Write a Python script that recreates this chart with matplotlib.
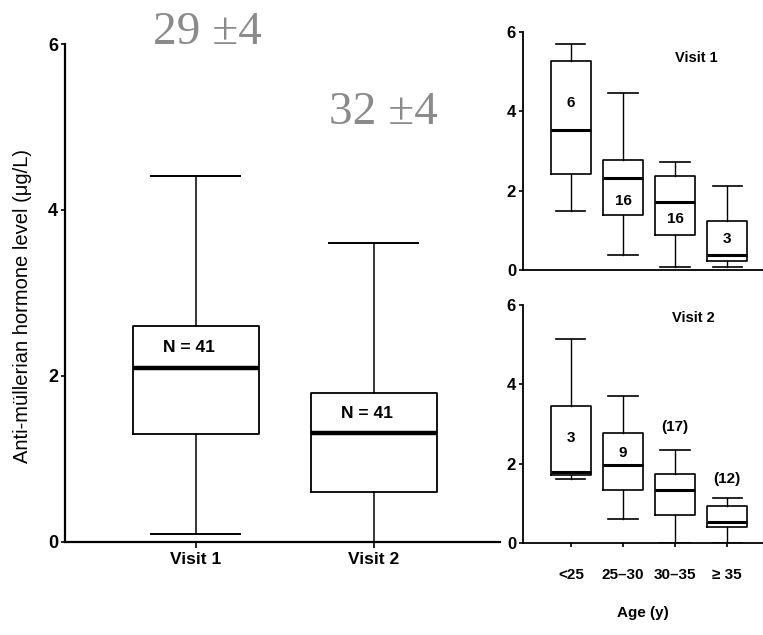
import matplotlib
matplotlib.use('Agg')
import matplotlib.pyplot as plt

# main panel: AMH by visit
main_labels = ['Visit 1', 'Visit 2']
main_whislo = [0.10, 0.00]
main_q1 = [1.30, 0.60]
main_med = [2.10, 1.31]
main_q3 = [2.60, 1.80]
main_whishi = [4.41, 3.60]
main_n = ['N = 41', 'N = 41']
main_n_y = [2.34, 1.55]
age_notes = ['29 \u00b14', '32 \u00b14']

# right panels: AMH by age group
age_groups = ['<25', '25\u201330', '30\u201335', '\u2265 35']
v1_whislo = [1.49, 0.38, 0.08, 0.08]
v1_q1 = [2.43, 1.38, 0.88, 0.23]
v1_med = [3.54, 2.32, 1.71, 0.37]
v1_q3 = [5.28, 2.77, 2.36, 1.24]
v1_whishi = [5.70, 4.45, 2.72, 2.12]
v1_n = ['6', '16', '16', '3']
v1_n_y = [4.21, 1.74, 1.28, 0.79]

v2_whislo = [1.62, 0.61, 0.00, 0.00]
v2_q1 = [1.72, 1.34, 0.71, 0.40]
v2_med = [1.80, 1.97, 1.34, 0.52]
v2_q3 = [3.45, 2.77, 1.74, 0.92]
v2_whishi = [5.14, 3.71, 2.34, 1.13]
v2_n = ['3', '9', '(17)', '(12)']
v2_n_y = [2.64, 2.26, 2.93, 1.61]

plt.rcParams['font.family'] = ['Liberation Sans', 'DejaVu Sans']
SERIF = ['Liberation Serif', 'DejaVu Serif']


def stats(lo, q1, med, q3, hi):
    return [dict(whislo=a, q1=b, med=c, q3=d, whishi=e, fliers=[])
            for a, b, c, d, e in zip(lo, q1, med, q3, hi)]


def style_axis(ax, lw=1.4):
    for s in ('top', 'right'):
        ax.spines[s].set_visible(False)
    for s in ('left', 'bottom'):
        ax.spines[s].set_linewidth(lw)
    ax.set_ylim(0, 6)
    ax.set_yticks([0, 2, 4, 6])
    ax.tick_params(axis='y', length=3, width=1.2, pad=2)
    ax.tick_params(axis='x', length=4, width=1.2)


fig = plt.figure(figsize=(7.63, 6.35), dpi=100)

# ---- main panel
ax = fig.add_axes([0.0852, 0.1465, 0.570, 0.7842])
ax.bxp(stats(main_whislo, main_q1, main_med, main_q3, main_whishi),
       positions=[1, 2], widths=0.71, capwidths=0.5, showfliers=False,
       boxprops=dict(color='black', linewidth=1.3),
       whiskerprops=dict(color='black', linewidth=1.1),
       capprops=dict(color='black', linewidth=1.4),
       medianprops=dict(color='black', linewidth=3.2, solid_capstyle='butt'))
style_axis(ax, lw=1.6)
ax.set_xlim(0.264, 2.708)
ax.set_xticks([1, 2])
ax.set_xticklabels(main_labels, fontweight='bold', fontsize=12.5)
ax.set_yticklabels(['0', '2', '4', '6'], fontweight='bold', fontsize=13)
ax.set_ylabel('Anti-m\u00fcllerian hormone level (\u03bcg/L)', fontsize=14.5)
ax.yaxis.set_label_coords(-0.076, 0.474)
for i, (t, y) in enumerate(zip(main_n, main_n_y)):
    ax.text(i + 1 - 0.04, y, t, ha='center', va='center',
            fontweight='bold', fontsize=12.5)

fig.text(207 / 763, 1 - 44 / 635, age_notes[0], ha='center', va='baseline',
         family=SERIF, fontsize=34, color='#8a8a8a')
fig.text(383 / 763, 1 - 124 / 635, age_notes[1], ha='center', va='baseline',
         family=SERIF, fontsize=34, color='#8a8a8a')

# ---- right panels
pos = [1, 2, 3, 4]
panels = [
    ([0.6855, 0.5748, 0.3145, 0.3748], 'Visit 1',
     stats(v1_whislo, v1_q1, v1_med, v1_q3, v1_whishi), v1_n, v1_n_y, 3.0, 5.34),
    ([0.6855, 0.1449, 0.3145, 0.3748], 'Visit 2',
     stats(v2_whislo, v2_q1, v2_med, v2_q3, v2_whishi), v2_n, v2_n_y, 2.94, 5.66),
]
for k, (rect, title, st, nlab, ny, tx, ty) in enumerate(panels):
    a = fig.add_axes(rect)
    a.bxp(st, positions=pos, widths=0.77, capwidths=0.56, showfliers=False,
          boxprops=dict(color='black', linewidth=1.2),
          whiskerprops=dict(color='black', linewidth=1.0),
          capprops=dict(color='black', linewidth=1.2),
          medianprops=dict(color='black', linewidth=2.2, solid_capstyle='butt'))
    style_axis(a, lw=1.3)
    a.set_xlim(0.08, 4.69)
    a.set_xticks(pos)
    a.set_yticklabels(['0', '2', '4', '6'], fontweight='bold', fontsize=12)
    for x, t, y in zip(pos, nlab, ny):
        a.text(x, y, t, ha='center', va='center', fontweight='bold', fontsize=11)
    a.text(tx, ty, title, ha='left', va='center', fontweight='bold', fontsize=10.5)
    if k == 0:
        a.tick_params(axis='x', length=0, labelbottom=False)
    else:
        a.tick_params(axis='x', length=3, pad=15)
        a.set_xticklabels(age_groups, fontweight='bold', fontsize=11)
        a.set_xlabel('Age (y)', fontweight='bold', fontsize=11, labelpad=17)

fig.savefig('out.png', dpi=100, facecolor='white')
